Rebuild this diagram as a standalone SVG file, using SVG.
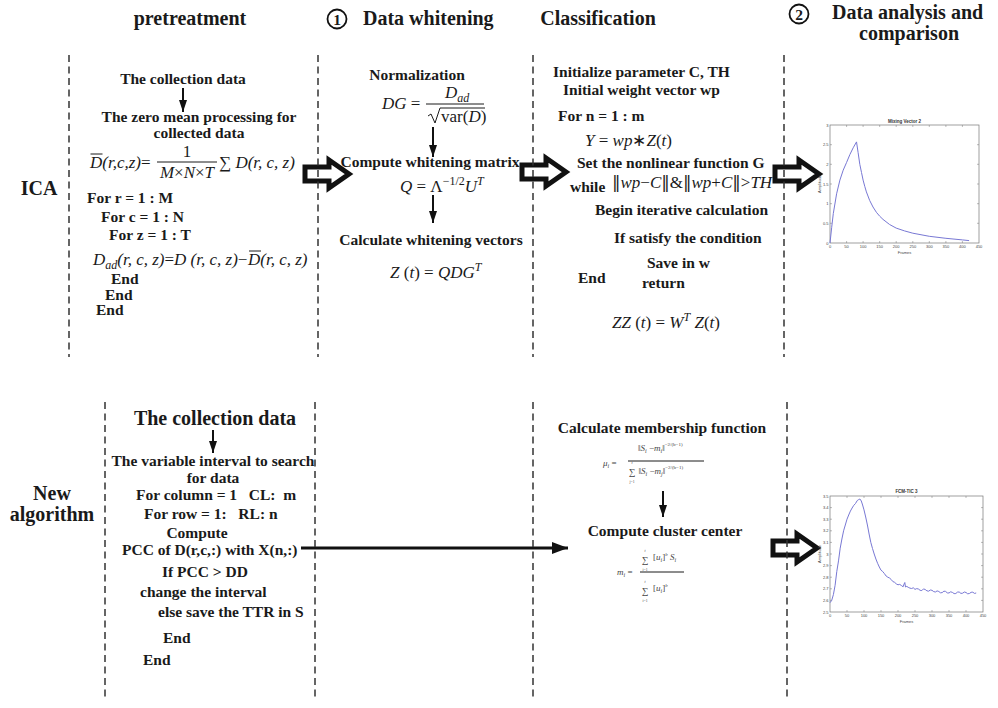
<svg xmlns="http://www.w3.org/2000/svg" width="998" height="708" viewBox="0 0 998 708">
  <style>
    .t { font-family: "Liberation Serif", "Times New Roman", serif; font-weight: bold; font-size: 15.5px; fill: #1a1a1a; }
    .h { font-size: 20px; }
    .big { font-size: 20px; }
    .m { font-family: "Liberation Serif", "Times New Roman", serif; font-style: italic; font-size: 17px; fill: #1a1a1a; }
    .up { font-style: normal; }
    .nb { font-family: "DejaVu Serif", serif; font-style: normal; font-weight: normal; fill: #1a1a1a; }
    .sm { font-family: "Liberation Serif", serif; font-style: italic; font-size: 9px; fill: #444; }
    .lim { font-family: "Liberation Serif", serif; font-size: 3.8px; fill: #444; }
    .div { fill: none; stroke: #333; stroke-width: 1.5; stroke-dasharray: 7 4.5; }
    .conn { fill: none; stroke: #111; stroke-width: 2; marker-end: url(#ah); }
    .long { fill: none; stroke: #111; stroke-width: 3.2; marker-end: url(#ahBig); }
    .blk { fill: #fff; stroke: #111; stroke-width: 5; stroke-linejoin: miter; }
    .rule { stroke: #1a1a1a; stroke-width: 1; fill: none; }
    .ax { fill: #fff; stroke: #777; stroke-width: 0.7; }
    .tick { stroke: #777; stroke-width: 0.5; }
    .tk { font-family: "Liberation Sans", Arial, sans-serif; font-size: 4px; fill: #444; }
    .ttl { font-family: "Liberation Sans", Arial, sans-serif; font-size: 4.5px; font-weight: bold; fill: #333; }
    .curve { fill: none; stroke: #7878d4; stroke-width: 1; }
    .circ { fill: none; stroke: #111; stroke-width: 1.8; }
  </style>
  <defs>
    <marker id="ah" viewBox="0 0 12 8" refX="12" refY="4" markerWidth="12" markerHeight="8" markerUnits="userSpaceOnUse" orient="auto">
      <path d="M0,0 L12,4 L0,8 z" fill="#111"/>
    </marker>
    <marker id="ahBig" viewBox="0 0 16 12" refX="16" refY="6" markerWidth="16" markerHeight="12" markerUnits="userSpaceOnUse" orient="auto">
      <path d="M0,0 L16,6 L0,12 z" fill="#111"/>
    </marker>
    <path id="blockArrow" d="M0,-7 H24 V-14 L44,0 L24,14 V7 H0 Z"/>
  </defs>

  <rect width="998" height="708" fill="#fff"/>

  <!-- column headings -->
  <g id="head-pretreatment">
    <text class="t h" x="190" y="25" text-anchor="middle">pretreatment</text>
  </g>
  <g id="head-whitening">
    <circle class="circ" cx="337" cy="19" r="9.5"/>
    <text class="t" x="337" y="24.5" text-anchor="middle" font-size="14">1</text>
    <text class="t h" x="363" y="25">Data whitening</text>
  </g>
  <g id="head-classification">
    <text class="t h" x="598" y="25" text-anchor="middle">Classification</text>
  </g>
  <g id="head-analysis">
    <circle class="circ" cx="799" cy="14" r="9.5"/>
    <text class="t" x="799" y="19.5" text-anchor="middle" font-size="14">2</text>
    <text class="t h" x="832" y="19">Data analysis and</text>
    <text class="t h" x="909" y="40" text-anchor="middle">comparison</text>
  </g>

  <!-- row labels -->
  <g id="row-ica">
    <text class="t h" x="39" y="195" text-anchor="middle">ICA</text>
  </g>
  <g id="row-new">
    <text class="t h" x="52" y="500" text-anchor="middle">New</text>
    <text class="t h" x="52" y="521" text-anchor="middle">algorithm</text>
  </g>

  <!-- connectors -->
  <g id="connectors">
    <line class="conn" x1="183" y1="88" x2="183" y2="112"/>
    <line class="conn" x1="433" y1="127" x2="433" y2="157"/>
    <line class="conn" x1="433" y1="195" x2="433" y2="223"/>
    <line class="conn" x1="213" y1="430" x2="213" y2="453"/>
    <line class="conn" x1="663" y1="491" x2="663" y2="517"/>
    <line class="long" x1="301" y1="548" x2="568" y2="548"/>
    <use href="#blockArrow" class="blk" x="305" y="174"/>
    <use href="#blockArrow" class="blk" x="522" y="172"/>
    <use href="#blockArrow" class="blk" x="775" y="174"/>
    <use href="#blockArrow" class="blk" x="773" y="548"/>
  </g>

  <!-- dashed column dividers -->
  <g id="dividers">
    <line class="div" x1="69" y1="55" x2="69" y2="357"/>
    <line class="div" x1="318" y1="55" x2="318" y2="357"/>
    <line class="div" x1="533" y1="55" x2="533" y2="357"/>
    <line class="div" x1="784" y1="55" x2="784" y2="357"/>
    <line class="div" x1="105" y1="402" x2="105" y2="700"/>
    <line class="div" x1="315" y1="402" x2="315" y2="700"/>
    <line class="div" x1="533" y1="402" x2="533" y2="700"/>
    <line class="div" x1="787" y1="402" x2="787" y2="700"/>
  </g>

  <!-- ICA: pretreatment -->
  <g id="ica-pretreatment">
    <text class="t" x="183" y="84" text-anchor="middle">The collection data</text>
    <text class="t" x="199" y="122" text-anchor="middle">The zero mean processing for</text>
    <text class="t" x="199" y="138" text-anchor="middle">collected data</text>
    <text class="m" x="90" y="168">D(r,c,z)<tspan class="up">=</tspan></text>
    <line class="rule" x1="90.5" y1="154" x2="102.5" y2="154"/>
    <text class="m up" x="187" y="157" text-anchor="middle">1</text>
    <line class="rule" x1="157" y1="162" x2="217" y2="162"/>
    <text class="m" x="187" y="178" text-anchor="middle">M<tspan class="up">×</tspan>N<tspan class="up">×</tspan>T</text>
    <text class="m" x="219" y="168"><tspan class="up">∑</tspan> D(r, c, z)</text>
    <text class="t" x="87" y="203">For r = 1 : M</text>
    <text class="t" x="101" y="222">For c = 1 : N</text>
    <text class="t" x="109" y="240">For z = 1 : T</text>
    <text class="m" x="93" y="265">D<tspan font-size="12" dy="3.5">ad</tspan><tspan dy="-3.5">(r, c, z)</tspan><tspan class="up">=</tspan>D (r, c, z)<tspan class="up">−</tspan></text>
    <text class="m" x="248" y="265">D(r, c, z)</text>
    <line class="rule" x1="249" y1="251" x2="261" y2="251"/>
    <text class="t" x="111" y="284">End</text>
    <text class="t" x="105" y="300">End</text>
    <text class="t" x="96" y="315">End</text>
  </g>

  <!-- ICA: data whitening -->
  <g id="ica-whitening">
    <text class="t" x="417" y="80" text-anchor="middle">Normalization</text>
    <text class="m" x="382" y="109">DG <tspan class="up">=</tspan></text>
    <text class="m" x="445" y="98">D<tspan font-size="12" dy="3.5">ad</tspan></text>
    <line class="rule" x1="426" y1="104" x2="484" y2="104"/>
    <path class="rule" d="M428,116 L431,114 L435,123 L440,108 H485"/>
    <text class="m up" x="441" y="122">var(<tspan font-style="italic">D</tspan>)</text>
    <text class="t" x="430" y="167" text-anchor="middle">Compute whitening matrix</text>
    <text class="m" x="400" y="192">Q<tspan class="up"> = Λ</tspan><tspan class="up" font-size="12" dy="-7">−1/2</tspan><tspan dy="7">U</tspan><tspan font-size="12" dy="-7">T</tspan></text>
    <text class="t" x="431" y="245" text-anchor="middle">Calculate whitening vectors</text>
    <text class="m" x="390" y="278">Z <tspan class="up">(</tspan>t<tspan class="up">) = </tspan>QDG<tspan font-size="12" dy="-7">T</tspan></text>
  </g>

  <!-- ICA: classification -->
  <g id="ica-classification">
    <text class="t" x="553" y="77">Initialize parameter C, TH</text>
    <text class="t" x="563" y="95">Initial weight vector wp</text>
    <text class="t" x="558" y="121">For n = 1 : m</text>
    <text class="m" x="585" y="146">Y <tspan class="up">=</tspan> wp<tspan class="up">∗</tspan>Z<tspan class="up">(</tspan>t<tspan class="up">)</tspan></text>
    <text class="t" x="577" y="168">Set the nonlinear function G</text>
    <text class="t" x="570" y="192">while</text>
    <text class="m" x="612" y="188"><tspan class="nb">‖</tspan>wp<tspan class="up">−</tspan>C<tspan class="nb">‖</tspan><tspan class="up">&amp;</tspan><tspan class="nb">‖</tspan>wp<tspan class="up">+</tspan>C<tspan class="nb">‖</tspan><tspan class="up">&gt;</tspan>TH</text>
    <text class="t" x="595" y="215">Begin iterative calculation</text>
    <text class="t" x="614" y="243">If satisfy the condition</text>
    <text class="t" x="647" y="268">Save in w</text>
    <text class="t" x="578" y="283">End</text>
    <text class="t" x="642" y="288">return</text>
    <text class="m" x="612" y="328">ZZ <tspan class="up">(</tspan>t<tspan class="up">) = </tspan>W<tspan font-size="12" dy="-7">T</tspan><tspan dy="7"> Z</tspan><tspan class="up">(</tspan>t<tspan class="up">)</tspan></text>
  </g>

  <!-- ICA: result plot -->
  <g id="ica-plot" transform="translate(830,125)">
    <rect class="ax" x="0" y="0" width="149" height="118"/>
    <g class="tick">
      <line x1="16.6" y1="118" x2="16.6" y2="116"/><line x1="33.1" y1="118" x2="33.1" y2="116"/>
      <line x1="49.7" y1="118" x2="49.7" y2="116"/><line x1="66.2" y1="118" x2="66.2" y2="116"/>
      <line x1="82.8" y1="118" x2="82.8" y2="116"/><line x1="99.3" y1="118" x2="99.3" y2="116"/>
      <line x1="115.9" y1="118" x2="115.9" y2="116"/><line x1="132.4" y1="118" x2="132.4" y2="116"/>
      <line x1="16.6" y1="0" x2="16.6" y2="2"/><line x1="33.1" y1="0" x2="33.1" y2="2"/>
      <line x1="49.7" y1="0" x2="49.7" y2="2"/><line x1="66.2" y1="0" x2="66.2" y2="2"/>
      <line x1="82.8" y1="0" x2="82.8" y2="2"/><line x1="99.3" y1="0" x2="99.3" y2="2"/>
      <line x1="115.9" y1="0" x2="115.9" y2="2"/><line x1="132.4" y1="0" x2="132.4" y2="2"/>
      <line x1="0" y1="98.3" x2="2" y2="98.3"/><line x1="0" y1="78.7" x2="2" y2="78.7"/>
      <line x1="0" y1="59" x2="2" y2="59"/><line x1="0" y1="39.3" x2="2" y2="39.3"/>
      <line x1="0" y1="19.7" x2="2" y2="19.7"/>
      <line x1="149" y1="98.3" x2="147" y2="98.3"/><line x1="149" y1="78.7" x2="147" y2="78.7"/>
      <line x1="149" y1="59" x2="147" y2="59"/><line x1="149" y1="39.3" x2="147" y2="39.3"/>
      <line x1="149" y1="19.7" x2="147" y2="19.7"/>
    </g>
    <g class="tk" text-anchor="middle">
      <text x="0" y="123">0</text><text x="16.6" y="123">50</text><text x="33.1" y="123">100</text>
      <text x="49.7" y="123">150</text><text x="66.2" y="123">200</text><text x="82.8" y="123">250</text>
      <text x="99.3" y="123">300</text><text x="115.9" y="123">350</text><text x="132.4" y="123">400</text>
      <text x="149" y="123">450</text>
    </g>
    <g class="tk" text-anchor="end">
      <text x="-1.5" y="119.5">0</text><text x="-1.5" y="99.8">0.5</text><text x="-1.5" y="80.2">1</text>
      <text x="-1.5" y="60.5">1.5</text><text x="-1.5" y="40.8">2</text><text x="-1.5" y="21.2">2.5</text>
      <text x="-1.5" y="1.5">3</text>
    </g>
    <text class="ttl" x="74.5" y="-2.5" text-anchor="middle">Mixing Vector 2</text>
    <text class="tk" x="74.5" y="129" text-anchor="middle">Frames</text>
    <text class="tk" transform="translate(-9,59) rotate(-90)" text-anchor="middle">Amplitude</text>
    <polyline class="curve" points="0,118 1.7,102.3 3.3,88.5 6.6,68.8 9.9,55.1 13.2,45.2 16.6,37.4 19.9,29.5 23.2,22.8 26.5,16.9 28.1,27.5 29.8,39.3 31.5,47.5 33.1,55.1 34.8,61.5 36.4,66.9 39.7,75.5 43,82 46.4,87.3 49.7,91.2 53,94.4 59.6,99.5 66.2,103.1 74.5,105.9 82.8,108.2 99.3,111.3 115.9,113.3 132.4,114.9 139.1,115.6"/>
  </g>

  <!-- New algorithm: pretreatment -->
  <g id="new-pretreatment">
    <text class="t big" x="215" y="425" text-anchor="middle">The collection data</text>
    <text class="t" x="213" y="466" text-anchor="middle">The variable interval to search</text>
    <text class="t" x="213" y="483" text-anchor="middle">for data</text>
    <text class="t" x="136" y="500" xml:space="preserve">For column = 1   CL:  m</text>
    <text class="t" x="144" y="519" xml:space="preserve">For row = 1:   RL: n</text>
    <text class="t" x="197" y="538" text-anchor="middle">Compute</text>
    <text class="t" x="122" y="555">PCC of D(r,c,:) with X(n,:)</text>
    <text class="t" x="162" y="577">If PCC &gt; DD</text>
    <text class="t" x="140" y="597">change the interval</text>
    <text class="t" x="158" y="617">else save the TTR in S</text>
    <text class="t" x="163" y="643">End</text>
    <text class="t" x="143" y="665">End</text>
  </g>

  <!-- New algorithm: clustering -->
  <g id="new-classification">
    <text class="t" x="662" y="433" text-anchor="middle">Calculate membership function</text>
    <text class="sm" x="603" y="466">μ<tspan font-size="6" dy="2">i</tspan><tspan class="up" dy="-2"> =</tspan></text>
    <text class="sm" x="638" y="451"><tspan class="up">‖</tspan>S<tspan font-size="6" dy="2">i</tspan><tspan class="up" dy="-2"> −</tspan>m<tspan font-size="6" dy="2">i</tspan><tspan class="up" dy="-2">‖</tspan><tspan class="up" font-size="5" dy="-5">−2/(b−1)</tspan></text>
    <line class="rule" x1="628" y1="461" x2="704" y2="461" stroke-width="0.7"/>
    <text class="lim" x="632" y="464" text-anchor="middle" font-style="italic">t</text>
    <text class="sm up" x="632" y="475" text-anchor="middle">∑</text>
    <text class="lim" x="632" y="482.5" text-anchor="middle">j=1</text>
    <text class="sm" x="638.5" y="474"><tspan class="up">‖</tspan>S<tspan font-size="6" dy="2">i</tspan><tspan class="up" dy="-2"> −</tspan>m<tspan font-size="6" dy="2">j</tspan><tspan class="up" dy="-2">‖</tspan><tspan class="up" font-size="5" dy="-5">−2/(b−1)</tspan></text>
    <text class="t" x="665" y="536" text-anchor="middle">Compute cluster center</text>
    <text class="sm" x="617" y="575">m<tspan font-size="6" dy="2">i</tspan><tspan class="up" dy="-2"> =</tspan></text>
    <text class="lim" x="645" y="552" text-anchor="middle" font-style="italic">t</text>
    <text class="sm up" x="645" y="563" text-anchor="middle">∑</text>
    <text class="lim" x="645" y="570.5" text-anchor="middle">i=1</text>
    <text class="sm" x="653" y="560"><tspan class="up">[</tspan>u<tspan font-size="6" dy="2">i</tspan><tspan class="up" dy="-2">]</tspan><tspan font-size="5" dy="-4">b</tspan><tspan dy="4"> S</tspan><tspan font-size="6" dy="2">i</tspan></text>
    <line class="rule" x1="640" y1="572" x2="684" y2="572" stroke-width="0.7"/>
    <text class="lim" x="645" y="583" text-anchor="middle" font-style="italic">t</text>
    <text class="sm up" x="645" y="594" text-anchor="middle">∑</text>
    <text class="lim" x="645" y="601.5" text-anchor="middle">i=1</text>
    <text class="sm" x="653" y="591"><tspan class="up">[</tspan>u<tspan font-size="6" dy="2">i</tspan><tspan class="up" dy="-2">]</tspan><tspan font-size="5" dy="-4">b</tspan></text>
  </g>

  <!-- New algorithm: result plot -->
  <g id="new-plot" transform="translate(830,496)">
    <rect class="ax" x="0" y="0" width="153" height="116"/>
    <g class="tick">
      <line x1="17" y1="116" x2="17" y2="114"/><line x1="34" y1="116" x2="34" y2="114"/>
      <line x1="51" y1="116" x2="51" y2="114"/><line x1="68" y1="116" x2="68" y2="114"/>
      <line x1="85" y1="116" x2="85" y2="114"/><line x1="102" y1="116" x2="102" y2="114"/>
      <line x1="119" y1="116" x2="119" y2="114"/><line x1="136" y1="116" x2="136" y2="114"/>
      <line x1="17" y1="0" x2="17" y2="2"/><line x1="34" y1="0" x2="34" y2="2"/>
      <line x1="51" y1="0" x2="51" y2="2"/><line x1="68" y1="0" x2="68" y2="2"/>
      <line x1="85" y1="0" x2="85" y2="2"/><line x1="102" y1="0" x2="102" y2="2"/>
      <line x1="119" y1="0" x2="119" y2="2"/><line x1="136" y1="0" x2="136" y2="2"/>
      <line x1="0" y1="11.6" x2="2" y2="11.6"/><line x1="0" y1="23.2" x2="2" y2="23.2"/>
      <line x1="0" y1="34.8" x2="2" y2="34.8"/><line x1="0" y1="46.4" x2="2" y2="46.4"/>
      <line x1="0" y1="58" x2="2" y2="58"/><line x1="0" y1="69.6" x2="2" y2="69.6"/>
      <line x1="0" y1="81.2" x2="2" y2="81.2"/><line x1="0" y1="92.8" x2="2" y2="92.8"/>
      <line x1="0" y1="104.4" x2="2" y2="104.4"/>
      <line x1="153" y1="11.6" x2="151" y2="11.6"/><line x1="153" y1="23.2" x2="151" y2="23.2"/>
      <line x1="153" y1="34.8" x2="151" y2="34.8"/><line x1="153" y1="46.4" x2="151" y2="46.4"/>
      <line x1="153" y1="58" x2="151" y2="58"/><line x1="153" y1="69.6" x2="151" y2="69.6"/>
      <line x1="153" y1="81.2" x2="151" y2="81.2"/><line x1="153" y1="92.8" x2="151" y2="92.8"/>
      <line x1="153" y1="104.4" x2="151" y2="104.4"/>
    </g>
    <g class="tk" text-anchor="middle">
      <text x="0" y="121">0</text><text x="17" y="121">50</text><text x="34" y="121">100</text>
      <text x="51" y="121">150</text><text x="68" y="121">200</text><text x="85" y="121">250</text>
      <text x="102" y="121">300</text><text x="119" y="121">350</text><text x="136" y="121">400</text>
      <text x="153" y="121">450</text>
    </g>
    <g class="tk" text-anchor="end">
      <text x="-1.5" y="117.5">2.5</text><text x="-1.5" y="105.9">2.6</text><text x="-1.5" y="94.3">2.7</text>
      <text x="-1.5" y="82.7">2.8</text><text x="-1.5" y="71.1">2.9</text><text x="-1.5" y="59.5">3</text>
      <text x="-1.5" y="47.9">3.1</text><text x="-1.5" y="36.3">3.2</text><text x="-1.5" y="24.7">3.3</text>
      <text x="-1.5" y="13.1">3.4</text><text x="-1.5" y="1.5">3.5</text>
    </g>
    <text class="ttl" x="76.5" y="-3" text-anchor="middle">FCM-TIC 3</text>
    <text class="tk" x="76.5" y="127" text-anchor="middle">Frames</text>
    <text class="tk" transform="translate(-9,58) rotate(-90)" text-anchor="middle">Amplitude</text>
    <polyline class="curve" points="0,106.7 1.7,104.4 3.4,98.6 5.1,89.3 6.8,75.4 8.5,64.9 10.2,52.2 11.9,43 13.6,34.8 15.3,29 17,23.2 18.7,19 20.4,15.1 22.1,12 23.8,9.3 25.5,7.5 27.2,4.6 28.6,3.6 29.9,3 31.3,5 32.6,9 34,13.9 35.7,21 37.4,29 39.1,38 40.8,46.4 42.5,52.5 44.2,58 45.9,63 47.6,67.3 49.3,71 51,74.2 52.7,75.5 54.4,77.6 56.1,80 57.8,81.2 59.5,82 61.2,83.5 62.9,85.6 64.6,86.3 66.3,87.9 68,88.8 69.7,88.4 71.4,89.5 73.1,90.8 74.1,88 74.8,86.5 75.5,91 76.8,90.4 78.2,91.3 79.9,92.1 81.6,92.5 83.3,91.8 85,93.4 86.7,92.6 88.4,93 90.1,94.3 91.8,94.6 93.5,92.9 95.2,93.5 96.9,94.8 98.6,95.2 100.3,94 102,94.3 103.7,95.6 105.4,96 107.1,94.9 108.8,95.5 110.5,96.8 112.2,96.6 113.9,95.2 115.6,95.4 117.3,96.9 119,97 120.7,95.8 122.4,96.4 124.1,97.6 125.8,97.5 127.5,96.1 129.2,96 130.9,97.4 132.6,97.2 134.3,96 136,96.5 137.7,97.8 139.4,97.5 141.1,96.3 142.8,96.2 144.5,97.4 146.2,97"/>
  </g>
</svg>
